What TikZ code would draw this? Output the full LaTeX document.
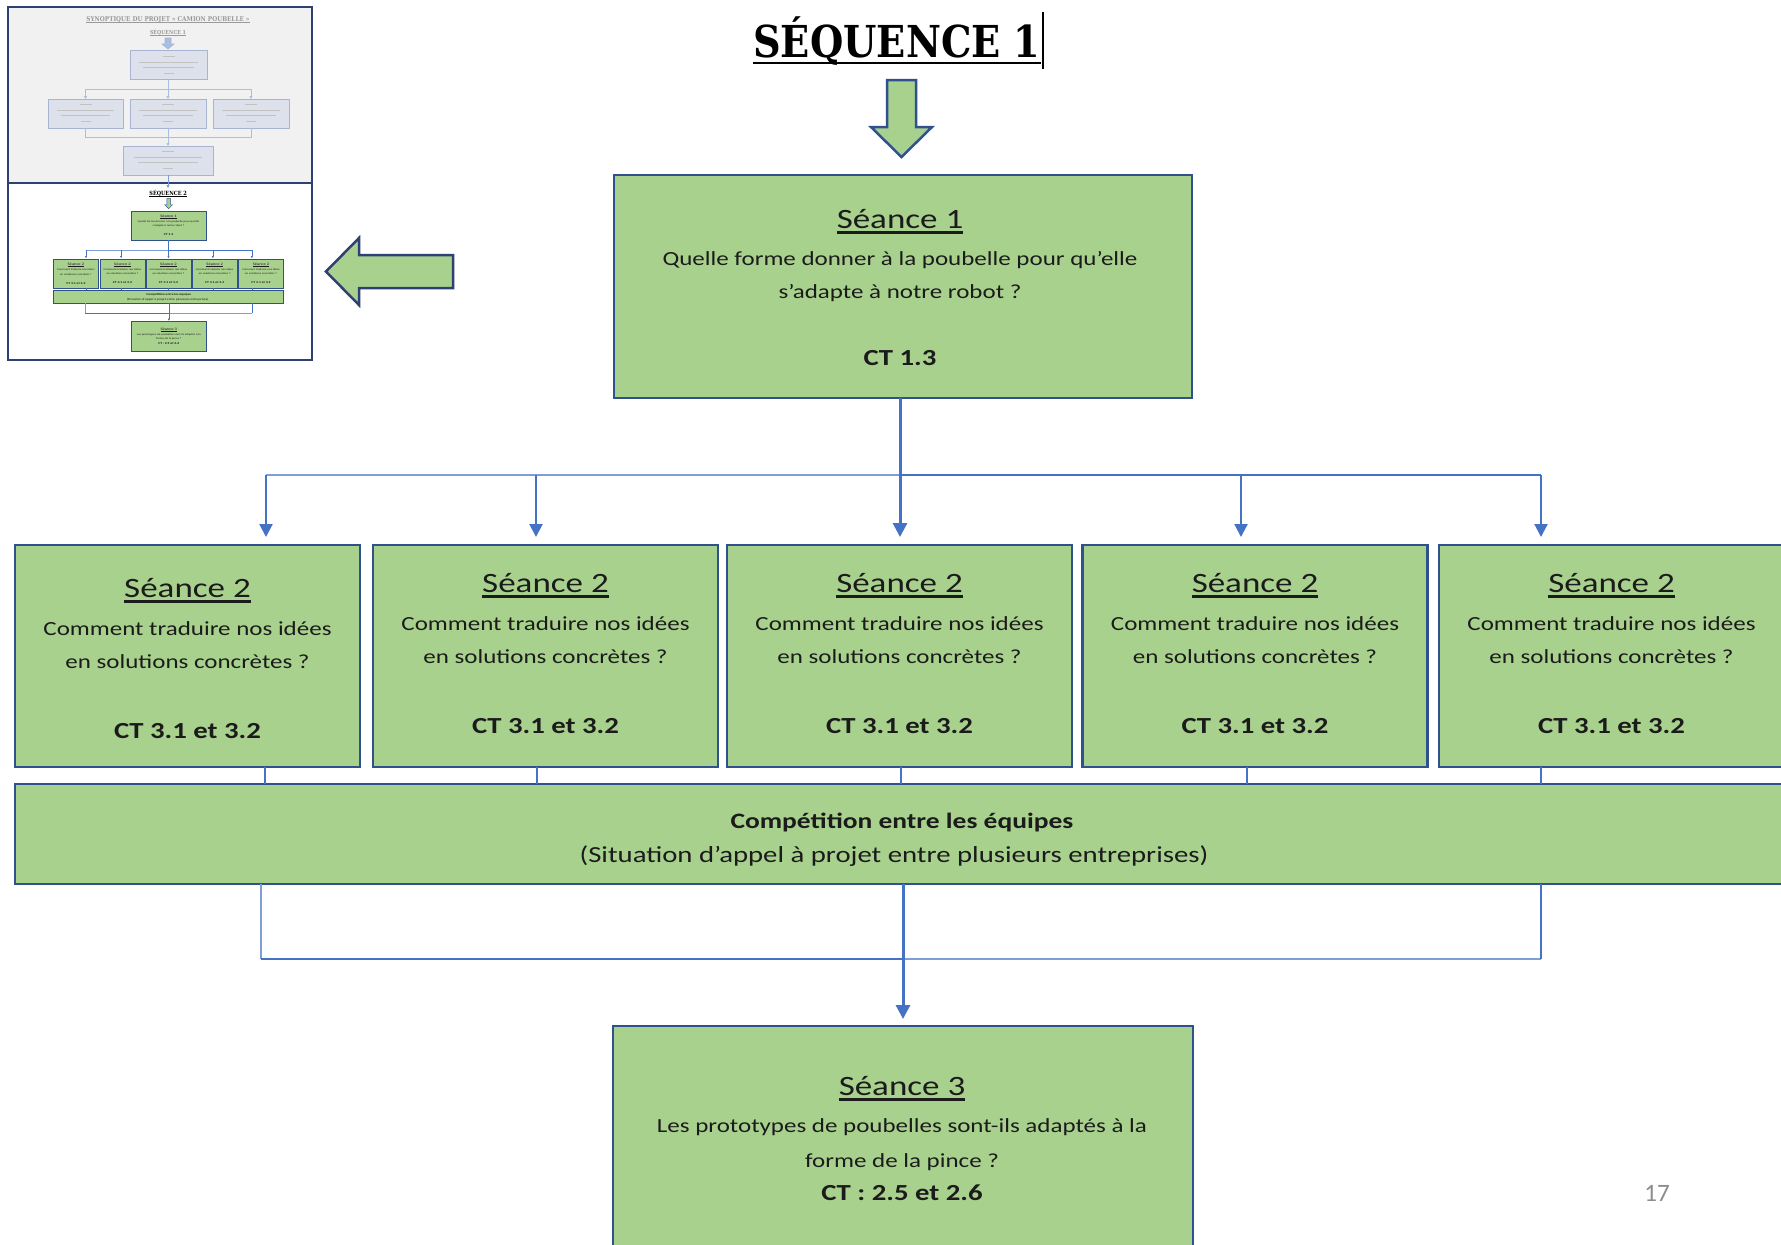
\documentclass[tikz,border=0pt]{standalone}
\usepackage{fontspec}
\setmainfont{Carlito}[FakeStretch=1.25]
\newfontfamily\plainfont{Carlito}
\newfontfamily\titlefont{DejaVu Serif}[FakeStretch=0.87]
\usetikzlibrary{arrows.meta}
\definecolor{gfill}{HTML}{A9D18E}
\definecolor{gline}{HTML}{2F528F}
\definecolor{cblue}{HTML}{4472C4}
\definecolor{cbluel}{HTML}{7E9ED8}
\definecolor{navy}{HTML}{2F4172}
\definecolor{pgfill}{HTML}{DCE1EC}
\definecolor{pgline}{HTML}{A7B5D2}
\definecolor{pgbg}{HTML}{F1F1F1}
\definecolor{plblue}{HTML}{A9BEE0}
\definecolor{ptext}{HTML}{9A9A9A}
\definecolor{tblack}{HTML}{1B1B1B}
\definecolor{pnum}{HTML}{8C8C8C}
\newsavebox\ulbx
\newcommand\ulbox[3]{\sbox\ulbx{#3}\rlap{\rule[-#1]{\wd\ulbx}{#2}}\usebox\ulbx}

\newcommand\seqdiagram[1]{%
\node[titlef] (title) at (897,57) {\ulbox{7pt}{2pt}{SÉQUENCE #1}};
\draw[barrow] (887,80) -- (916,80) -- (916,127) -- (932,127) -- (901.5,157) -- (871,127) -- (887,127) -- cycle;
\node[gbox,minimum width=578pt,minimum height=223pt] (s1) at (903,286.5) {};
\node[ttl] (s1t) at (900,228) {\ulbox{5.5pt}{2.4pt}{Séance 1}};
\node[body] (s1a) at (900,265) {Quelle forme donner à la poubelle pour qu’elle};
\node[body] (s1b) at (900,298) {s’adapte à notre robot ?};
\node[ctf] (s1c) at (900,365) {CT 1.3};
\foreach \i/\cx/\dy/\hx/\ux in {1/187.5/5/266/265, 2/545.5/0/536/537, 3/899.5/0/900/901, 4/1255/0/1241/1247, 5/1611.5/0/1541/1541}{
  \node[gbox,minimum width=345pt,minimum height=222pt] (b\i) at (\cx,656) {};
  \node[ttl] (b\i-t) at (\cx,{592+\dy}) {\ulbox{5.5pt}{2.4pt}{Séance 2}};
  \node[body] (b\i-a) at (\cx,{630+\dy}) {Comment traduire nos idées};
  \node[body] (b\i-b) at (\cx,{663+\dy}) {en solutions concrètes ?};
  \node[ctf] (b\i-c) at (\cx,{733+\dy}) {CT 3.1 et 3.2};
  \coordinate (h\i) at (\hx,475);
  \coordinate (e\i) at (\hx,537);
  \coordinate (u\i) at (\ux,776);
}
\node[gbox,minimum width=1770pt,minimum height=100pt] (comp) at (900,834) {};
\node[txt,font=\bfseries\fontsize{22}{24}\selectfont] (compa) at (902,828) {Compétition entre les équipes};
\node[txt,font=\fontsize{23}{26}\selectfont] (compb) at (894,862) {(Situation d’appel à projet entre plusieurs entreprises)};
\node[gbox,minimum width=580pt,minimum height=230pt] (s3) at (903,1141) {};
\node[ttl] (s3t) at (902,1095) {\ulbox{5.5pt}{2.4pt}{Séance 3}};
\node[body] (s3a) at (902,1132) {Les prototypes de poubelles sont-ils adaptés à la};
\node[body] (s3b) at (902,1167) {forme de la pince ?};
\node[ctf] (s3c) at (902,1200) {CT : 2.5 et 2.6};
\draw[clinel] (h1) -- (h3);
\draw[cline] (h3) -- (h5);
\draw[clinek] (s1.south -| h3) -- (h3);
\foreach \i in {1,2,4,5} {\draw[carrow] (h\i) -- (e\i);}
\draw[carrowk] (h3) -- (e3);
\foreach \i in {1,...,5} {\draw[cline] (b\i.south -| u\i) -- (comp.north -| u\i);}
\coordinate (k1) at (261,959);
\coordinate (k2) at (903,959);
\coordinate (k3) at (1541,959);
\coordinate (k4) at (903,1019);
\draw[clinel] (comp.south -| k1) -- (k1);
\draw[cline] (k1) -- (k2);
\draw[clinel] (k2) -- (k3);
\draw[cline] (k3) -- (comp.south -| k3);
\draw[clinek] (comp.south -| k2) -- (k2);
\draw[carrowk] (k2) -- (k4);
}

\begin{document}
\begin{tikzpicture}[x=1pt,y=-1pt,
  gbox/.style={draw=gline,fill=gfill,line width=2.5pt,inner sep=0pt,outer sep=0pt},
  txt/.style={anchor=base,inner sep=0pt,outer sep=0pt,text=tblack},
  ttl/.style={txt,font=\fontsize{28}{30}\selectfont},
  body/.style={txt,font=\fontsize{20}{24}\selectfont},
  ctf/.style={txt,font=\bfseries\fontsize{23}{26}\selectfont},
  titlef/.style={txt,text=black,font=\titlefont\bfseries\fontsize{44}{46}\selectfont},
  cline/.style={draw=cblue,line width=2.2pt},
  clinel/.style={draw=cbluel,line width=2.2pt},
  clinek/.style={draw=cblue,line width=3pt},
  carrow/.style={cline,-{Triangle[width=13pt,length=13pt]}},
  carrowk/.style={clinek,-{Triangle[width=14pt,length=14pt]}},
  barrow/.style={draw=gline,fill=gfill,line width=2.5pt,line join=miter},
  pbox/.style={draw=pgline,fill=pgfill,line width=0.8pt,inner sep=0pt,outer sep=0pt},
  pline/.style={draw=plblue,line width=0.8pt},
  parrow/.style={pline,-{Triangle[width=3pt,length=3pt]}},
  pbar/.style={draw=ptext!60,line width=0.9pt}]
\useasboundingbox (0,0) rectangle (1781,1245);
\fill[white] (0,0) rectangle (1781,1245);

% main diagram
\seqdiagram{1}
\draw[line width=1.2pt] (1043,12) -- (1043,69);
\node[anchor=base,inner sep=0pt,font=\plainfont\fontsize{25}{26}\selectfont,text=pnum] (pn) at (1657,1201) {17};

% thumbnail frames
\node[draw=navy,line width=2.5pt,fill=pgbg,minimum width=304pt,minimum height=176pt,inner sep=0pt] (thA) at (160,95) {};
\node[draw=navy,line width=2.5pt,fill=white,minimum width=304pt,minimum height=177pt,inner sep=0pt] (thB) at (160,271.5) {};

% upper (faded) thumbnail
\node[txt,text=ptext,font=\titlefont\bfseries\fontsize{6.6}{7}\selectfont] (pt1) at (168,21) {\ulbox{1.5pt}{0.5pt}{SYNOPTIQUE DU PROJET « CAMION POUBELLE »}};
\node[txt,text=ptext,font=\titlefont\bfseries\fontsize{5.5}{6}\selectfont] (pt2) at (168,34) {\ulbox{1.5pt}{0.5pt}{SÉQUENCE 1}};
\draw[draw=pgline,fill=plblue,line width=0.6pt] (165,38) -- (171,38) -- (171,44) -- (174,44) -- (168,49) -- (162,44) -- (165,44) -- cycle;
\foreach \n/\cx/\cy/\w in {pA/168.5/65/77, pB1/85.5/113.5/75, pB2/168/113.5/76, pB3/251/113.5/76, pC/168/160.5/90}{
  \node[pbox,minimum width=\w pt,minimum height=29pt] (\n) at (\cx,\cy) {};
  \draw[pbar] ({\cx-6},{\cy-9}) -- ({\cx+6},{\cy-9});
  \draw[pbar,line width=0.7pt] ({\cx-0.38*\w},{\cy-3}) -- ({\cx+0.38*\w},{\cy-3});
  \draw[pbar,line width=0.7pt] ({\cx-0.33*\w},{\cy+2}) -- ({\cx+0.33*\w},{\cy+2});
  \draw[pbar,line width=0.7pt] ({\cx-5},{\cy+8}) -- ({\cx+5},{\cy+8});
}
\coordinate (pq1) at (85.5,89);
\coordinate (pq2) at (168,89);
\coordinate (pq3) at (251,89);
\coordinate (pr1) at (85.5,137);
\coordinate (pr2) at (168,137);
\coordinate (pr3) at (251,137);
\coordinate (pz) at (168,188);
\draw[pline] (pA.south -| pq2) -- (pq2);
\draw[pline] (pq1) -- (pq3);
\draw[parrow] (pq1) -- (pB1.north -| pq1);
\draw[parrow] (pq2) -- (pB2.north -| pq2);
\draw[parrow] (pq3) -- (pB3.north -| pq3);
\draw[pline] (pB1.south -| pr1) -- (pr1) -- (pr3) -- (pB3.south -| pr3);
\draw[pline] (pB2.south -| pr2) -- (pr2);
\draw[parrow] (pr2) -- (pC.north -| pr2);
\draw[parrow,draw=cblue!70] (pC.south -| pz) -- (pz);

% lower thumbnail: scaled copy of the sequence diagram
\begin{scope}[shift={(51.5,188.25)},scale=0.13,transform shape,name prefix=m-,
  gbox/.append style={line width=0.45pt},
  cline/.append style={line width=0.35pt},
  clinel/.append style={line width=0.35pt},
  clinek/.append style={line width=0.45pt},
  carrow/.append style={-{Triangle[width=2pt,length=2pt]}},
  carrowk/.append style={-{Triangle[width=2pt,length=2pt]}},
  barrow/.append style={line width=0.4pt}]
\seqdiagram{2}
\end{scope}

% big left arrow
\draw[barrow,draw=navy] (453,255) -- (359,255) -- (359,238) -- (326,271.5) -- (359,305) -- (359,288) -- (453,288) -- cycle;
\end{tikzpicture}
\end{document}
